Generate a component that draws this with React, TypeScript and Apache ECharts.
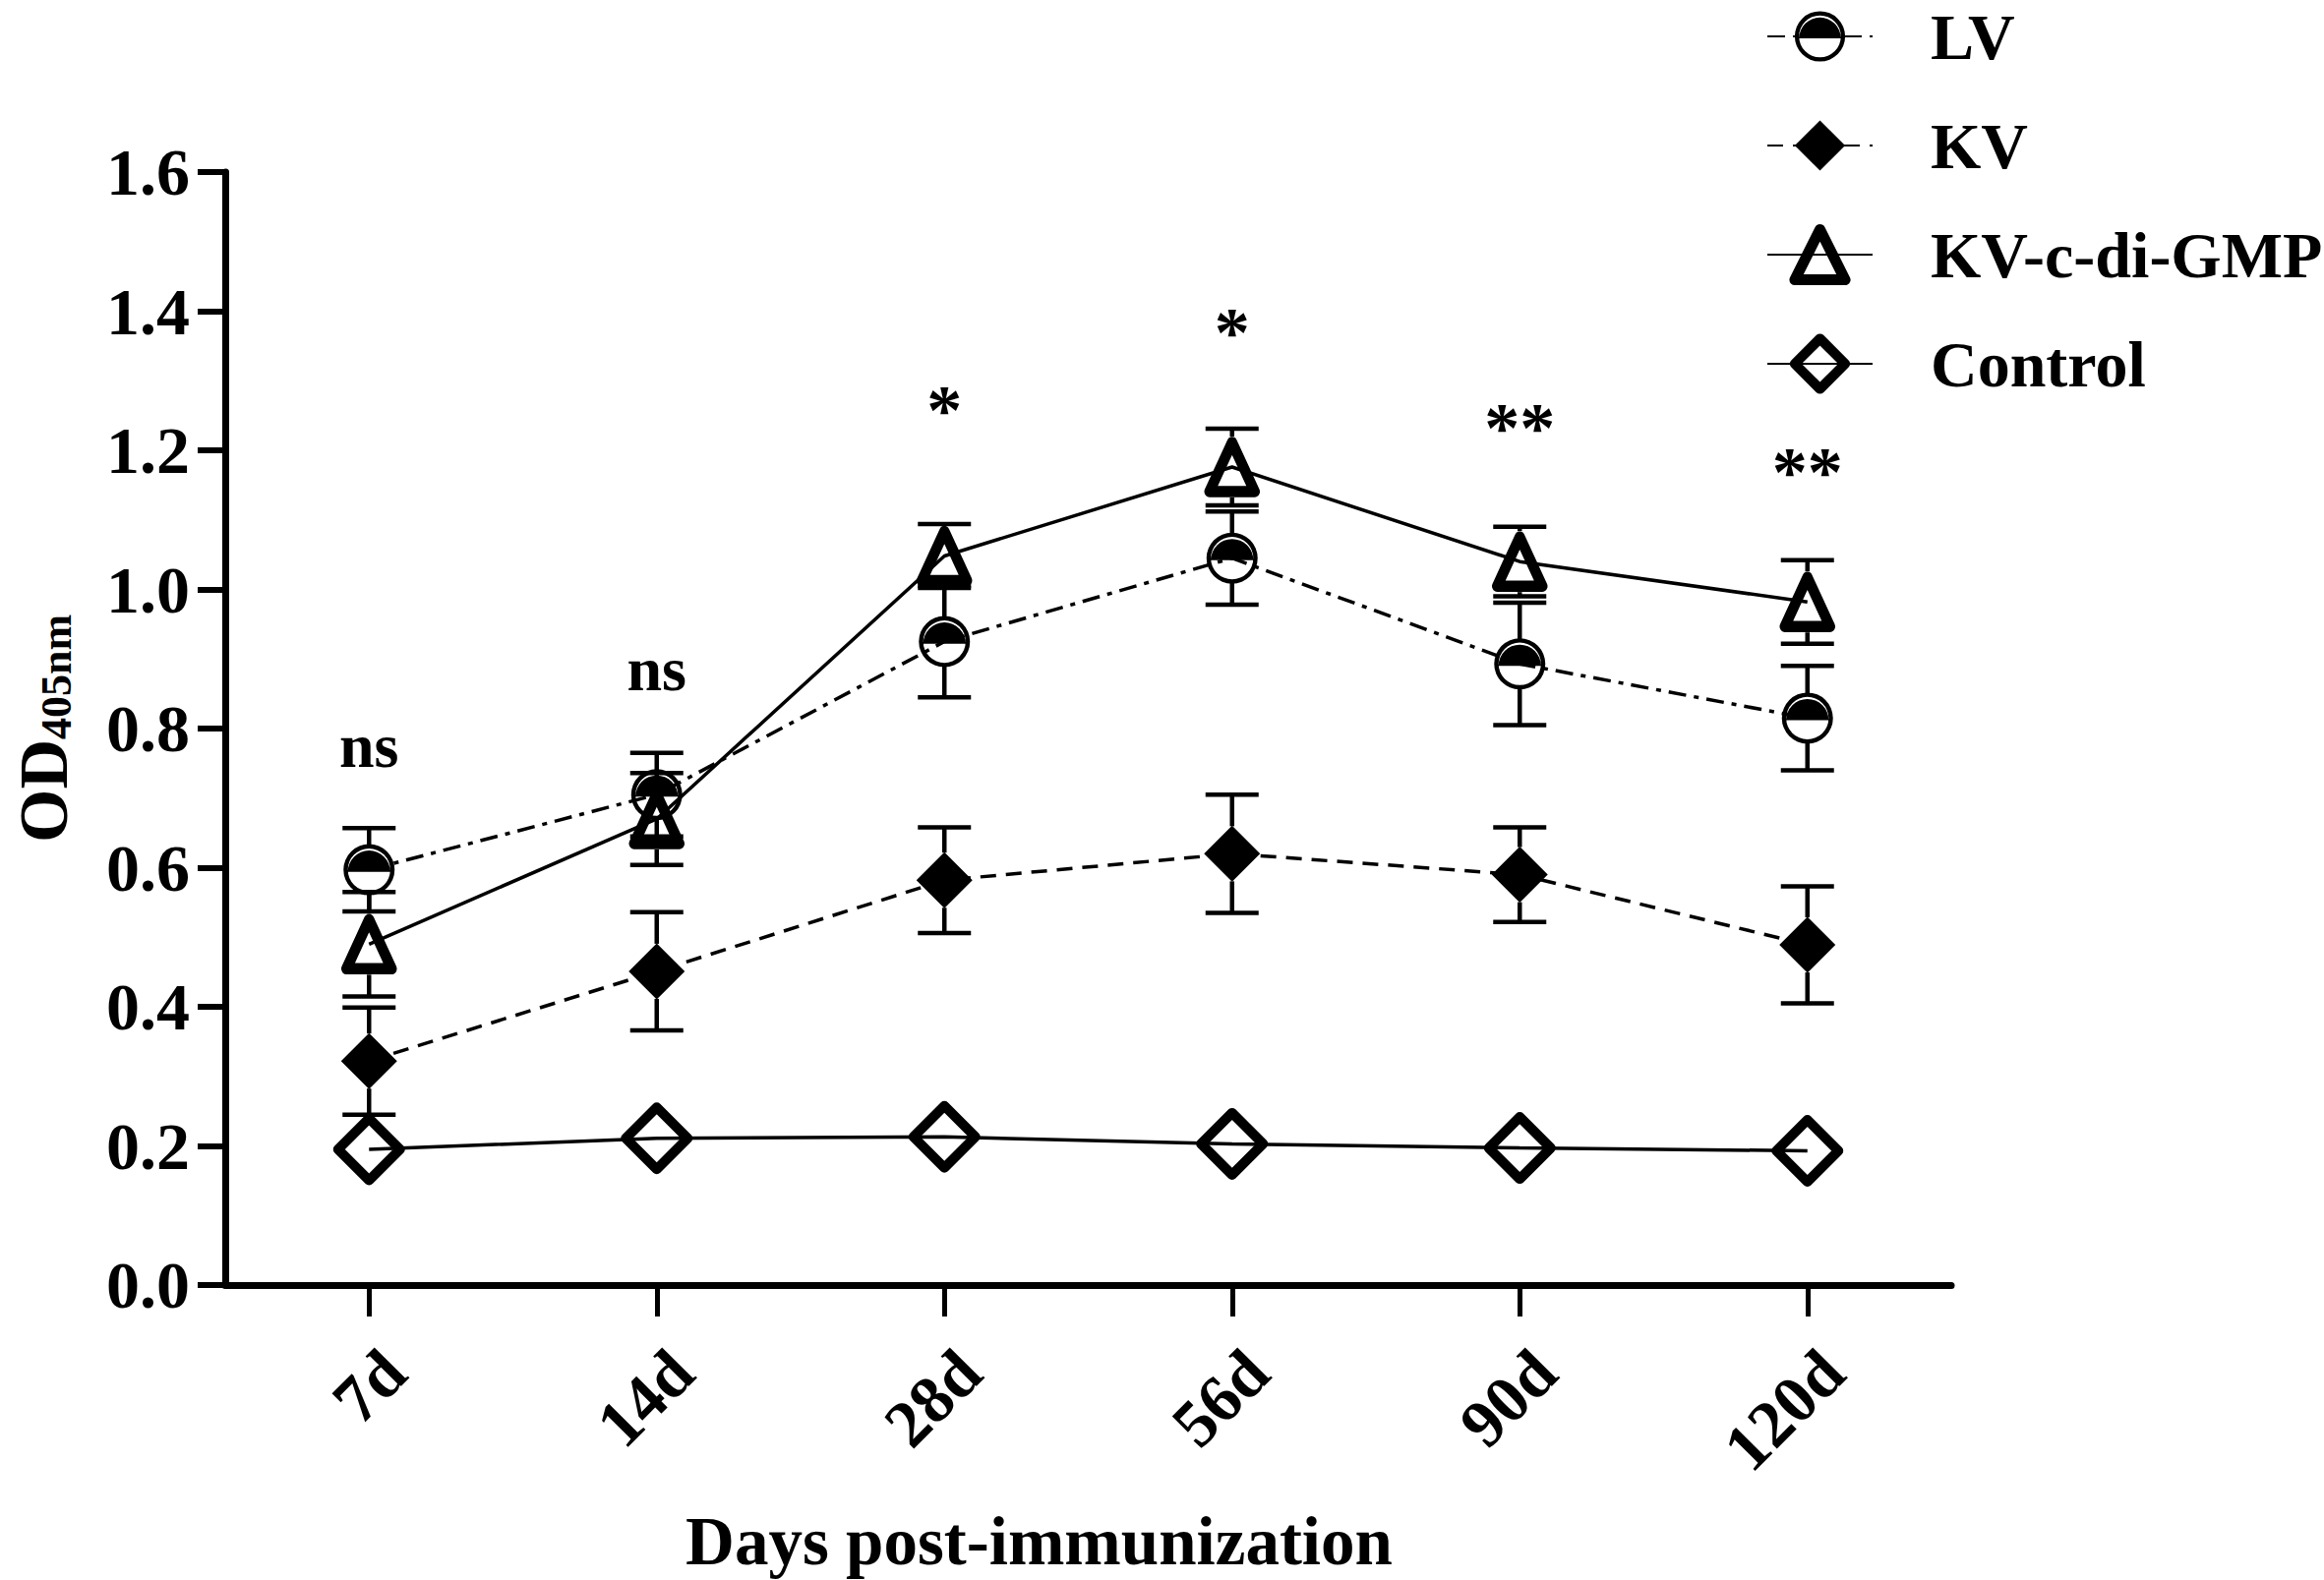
import React, { useEffect, useRef } from "react";
import * as echarts from "echarts";

const categories = ["7d", "14d", "28d", "56d", "90d", "120d"];
const seriesNames = ["LV", "KV", "KV-c-di-GMP", "Control"];
const lvMean = [0.597, 0.705, 0.925, 1.045, 0.893, 0.815];
const lvErr = [0.06, 0.06, 0.08, 0.067, 0.088, 0.075];
const kvMean = [0.322, 0.451, 0.582, 0.62, 0.59, 0.489];
const kvErr = [0.077, 0.085, 0.076, 0.085, 0.068, 0.084];
const cdgMean = [0.49, 0.67, 1.048, 1.176, 1.04, 0.982];
const cdgErr = [0.075, 0.066, 0.046, 0.055, 0.05, 0.06];
const ctrlMean = [0.195, 0.211, 0.213, 0.203, 0.197, 0.193];
const ctrlErr = [0.008, 0.008, 0.008, 0.008, 0.008, 0.008];
const sigLabels = ["ns", "ns", "*", "*", "**", "**"];
const sigY = [0.775, 0.885, 1.258, 1.37, 1.232, 1.169];

const FONT = "'Liberation Serif', 'Times New Roman', serif";

const LV_SYMBOL =
  "path://M0 50 A50 50 0 1 1 100 50 A50 50 0 1 1 0 50 Z " +
  "M8.5 50 A41.5 41.5 0 1 0 91.5 50 A41.5 41.5 0 1 0 8.5 50 Z " +
  "M8.5 54 A41.5 41.5 0 0 1 91.5 54 Z";

function errorSeries(name: string, means: number[], errs: number[], halfH: number) {
  return {
    type: "custom",
    name: name + " error",
    z: 1,
    silent: true,
    data: means.map((m, i) => [i, m, errs[i]]),
    renderItem: (_params: any, api: any) => {
      const i = api.value(0);
      const m = api.value(1);
      const e = api.value(2);
      const c = api.coord([i, m]);
      const top = api.coord([i, m + e]);
      const bot = api.coord([i, m - e]);
      const cap = 27;
      const style = { stroke: "#000", lineWidth: 4.5, fill: null };
      const children: any[] = [];
      if (c[1] - top[1] > halfH) {
        children.push({ type: "line", shape: { x1: c[0], y1: top[1], x2: c[0], y2: c[1] - halfH }, style });
        children.push({ type: "line", shape: { x1: c[0] - cap, y1: top[1], x2: c[0] + cap, y2: top[1] }, style });
      }
      if (bot[1] - c[1] > halfH) {
        children.push({ type: "line", shape: { x1: c[0], y1: c[1] + halfH, x2: c[0], y2: bot[1] }, style });
        children.push({ type: "line", shape: { x1: c[0] - cap, y1: bot[1], x2: c[0] + cap, y2: bot[1] }, style });
      }
      return { type: "group", children };
    },
  };
}

export default function App() {
  const ref = useRef<HTMLDivElement>(null);
  useEffect(() => {
    if (!ref.current) return;
    const chart = echarts.init(ref.current, null, { renderer: "svg" });
    const option: any = {
      animation: false,
      backgroundColor: "#fff",
      grid: { left: 229, right: 379, top: 175, bottom: 293, containLabel: false },
      legend: {
        orient: "vertical",
        left: 1796,
        top: 4,
        padding: 0,
        itemWidth: 107,
        itemHeight: 64,
        itemGap: 45,
        selectedMode: false,
        textStyle: {
          fontFamily: FONT,
          fontWeight: "bold",
          fontSize: 66,
          color: "#000",
          lineHeight: 66,
          padding: [0, 0, 0, 54],
        },
        data: [
          { name: seriesNames[0], itemStyle: { borderWidth: 0 } },
          { name: seriesNames[1], itemStyle: { borderWidth: 0 } },
          { name: seriesNames[2], itemStyle: { borderWidth: 11 } },
          { name: seriesNames[3], itemStyle: { borderWidth: 10 } },
        ],
      },
      xAxis: {
        type: "category",
        data: categories,
        boundaryGap: true,
        axisLine: { show: true, lineStyle: { color: "#000", width: 7 } },
        axisTick: { show: true, alignWithLabel: true, length: 32, lineStyle: { color: "#000", width: 5 } },
        axisLabel: {
          rotate: 45,
          margin: 103,
          padding: [0, -36, 0, 0],
          fontFamily: FONT,
          fontWeight: "bold",
          fontSize: 68,
          color: "#000",
          interval: 0,
        },
        splitLine: { show: false },
        name: "Days post-immunization",
        nameLocation: "middle",
        nameGap: 226,
        nameMoveOverlap: false,
        nameTextStyle: {
          fontFamily: FONT,
          fontWeight: "bold",
          fontSize: 69,
          lineHeight: 69,
          color: "#000",
          padding: [0, 100, 0, 0],
        },
      },
      yAxis: {
        type: "value",
        min: 0,
        max: 1.6,
        interval: 0.2,
        axisLine: { show: true, lineStyle: { color: "#000", width: 7 } },
        axisTick: { show: true, length: 28, lineStyle: { color: "#000", width: 6 } },
        axisLabel: {
          margin: 36,
          fontFamily: FONT,
          fontWeight: "bold",
          fontSize: 68,
          color: "#000",
          formatter: (v: number) => v.toFixed(1),
        },
        splitLine: { show: false },
        name: "{a|OD}{b|405nm}",
        nameLocation: "middle",
        nameGap: 150,
        nameMoveOverlap: false,
        nameTextStyle: {
          color: "#000",
          rich: {
            a: { fontFamily: FONT, fontWeight: "bold", fontSize: 70, lineHeight: 70, color: "#000" },
            b: { fontFamily: FONT, fontWeight: "bold", fontSize: 44, lineHeight: 20, verticalAlign: "bottom", color: "#000" },
          },
        },
      },
      series: [
        errorSeries("LV", lvMean, lvErr, 25),
        errorSeries("KV", kvMean, kvErr, 28),
        errorSeries("KV-c-di-GMP", cdgMean, cdgErr, 31),
        errorSeries("Control", ctrlMean, ctrlErr, 37),
        {
          type: "line",
          name: seriesNames[3],
          data: ctrlMean,
          z: 3,
          symbol: "diamond",
          symbolSize: 63,
          itemStyle: { color: "rgba(0,0,0,0)", borderColor: "#000", borderWidth: 10, borderJoin: "round" },
          lineStyle: { color: "#000", width: 3.5, type: "solid" },
        },
        {
          type: "line",
          name: seriesNames[1],
          data: kvMean,
          z: 3,
          symbol: "diamond",
          symbolSize: 57,
          itemStyle: { color: "#000", borderWidth: 0 },
          lineStyle: { color: "#000", width: 3.5, type: [16, 10] },
        },
        {
          type: "line",
          name: seriesNames[0],
          data: lvMean,
          z: 3,
          symbol: LV_SYMBOL,
          symbolSize: 52,
          itemStyle: { color: "#000", borderWidth: 0 },
          lineStyle: { color: "#000", width: 3.5, type: [18, 8, 5, 8] },
        },
        {
          type: "line",
          name: seriesNames[2],
          data: cdgMean,
          z: 3,
          symbol: "triangle",
          symbolSize: [46, 50],
          itemStyle: { color: "rgba(0,0,0,0)", borderColor: "#000", borderWidth: 11, borderJoin: "round" },
          lineStyle: { color: "#000", width: 3.5, type: "solid" },
        },
        {
          type: "scatter",
          name: "significance",
          silent: true,
          z: 5,
          symbolSize: 0,
          itemStyle: { color: "#000", opacity: 1 },
          data: sigY.map((y, i) => ({
            value: [i, y],
            label: { fontSize: sigLabels[i] === "ns" ? 64 : 72, color: "#000" },
          })),
          label: {
            show: true,
            position: "inside",
            color: "#000",
            opacity: 1,
            textBorderWidth: 0,
            fontFamily: FONT,
            fontWeight: "bold",
            formatter: (p: any) => sigLabels[p.dataIndex],
          },
        },
      ],
    };
    chart.setOption(option);
    return () => chart.dispose();
  }, []);
  return (
    <div
      ref={ref}
      style={{ position: "fixed", left: 0, top: 0, width: 2363, height: 1607, background: "#fff" }}
    />
  );
}
